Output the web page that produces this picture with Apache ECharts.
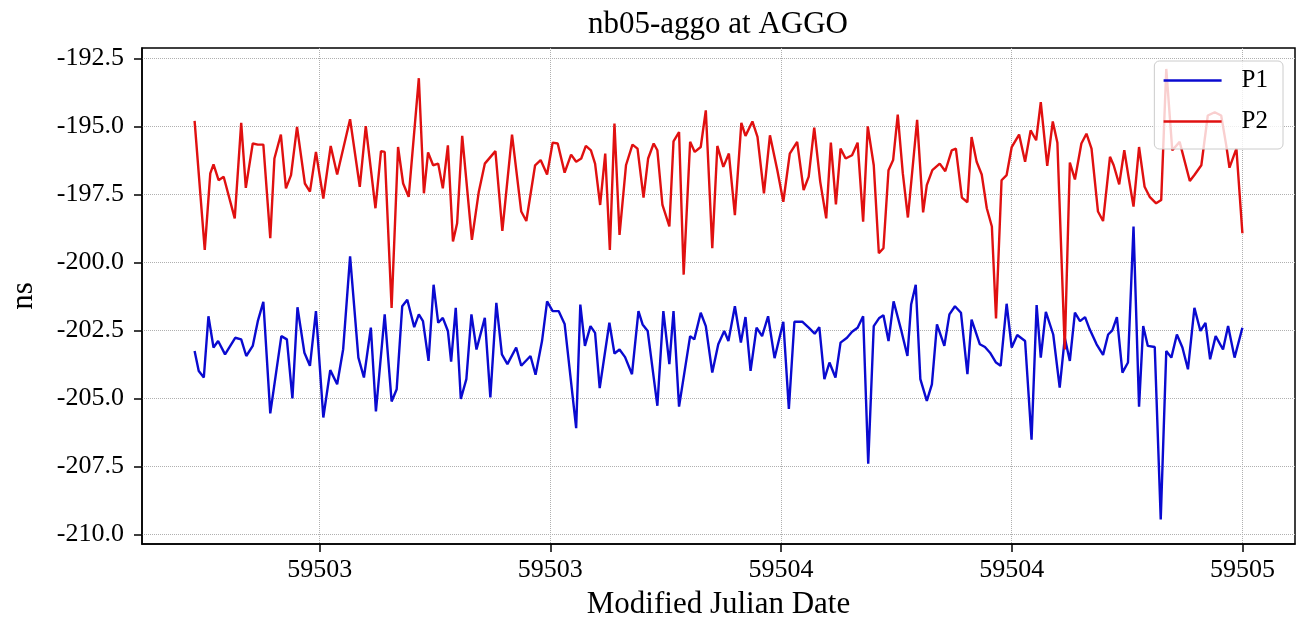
<!DOCTYPE html>
<html>
<head>
<meta charset="utf-8">
<title>nb05-aggo at AGGO</title>
<script src="https://cdn.jsdelivr.net/npm/echarts@6/dist/echarts.min.js"></script>
<style>
    html, body { margin: 0; padding: 0; background: #fff; }
    #main { width: 1308px; height: 625px; }
</style>
</head>
<body>
<div id="main"></div>
<script>
// P1 (blue) - MJD / ns
var p1Mjd = [
    59502.479, 59502.488, 59502.499, 59502.509, 59502.520, 59502.530, 59502.545, 59502.567, 59502.580, 59502.591,
    59502.605, 59502.616, 59502.628, 59502.643, 59502.667, 59502.679, 59502.691, 59502.702, 59502.717, 59502.729,
    59502.742, 59502.758, 59502.773, 59502.788, 59502.801, 59502.816, 59502.834, 59502.846, 59502.861, 59502.872,
    59502.891, 59502.906, 59502.917, 59502.929, 59502.940, 59502.955, 59502.965, 59502.974, 59502.986, 59502.997,
    59503.007, 59503.017, 59503.028, 59503.035, 59503.045, 59503.056, 59503.068, 59503.079, 59503.090, 59503.108,
    59503.120, 59503.133, 59503.145, 59503.157, 59503.176, 59503.187, 59503.207, 59503.218, 59503.232, 59503.243,
    59503.255, 59503.268, 59503.281, 59503.306, 59503.315, 59503.325, 59503.337, 59503.347, 59503.357, 59503.378,
    59503.389, 59503.400, 59503.412, 59503.427, 59503.441, 59503.450, 59503.461, 59503.482, 59503.495, 59503.508,
    59503.517, 59503.529, 59503.553, 59503.562, 59503.576, 59503.587, 59503.601, 59503.614, 59503.627, 59503.636,
    59503.650, 59503.663, 59503.673, 59503.684, 59503.697, 59503.709, 59503.722, 59503.736, 59503.755, 59503.767,
    59503.779, 59503.796, 59503.810, 59503.823, 59503.833, 59503.844, 59503.855, 59503.868, 59503.879, 59503.893,
    59503.904, 59503.916, 59503.928, 59503.939, 59503.951, 59503.963, 59503.972, 59503.983, 59503.994, 59504.010,
    59504.024, 59504.032, 59504.042, 59504.052, 59504.066, 59504.077, 59504.088, 59504.104, 59504.115, 59504.127,
    59504.140, 59504.154, 59504.163, 59504.181, 59504.192, 59504.203, 59504.216, 59504.226, 59504.239, 59504.250,
    59504.262, 59504.279, 59504.293, 59504.304, 59504.313, 59504.324, 59504.340, 59504.354, 59504.365, 59504.376,
    59504.387, 59504.398, 59504.409, 59504.419, 59504.434, 59504.448, 59504.459, 59504.468, 59504.478, 59504.490,
    59504.502, 59504.514, 59504.526, 59504.535, 59504.545, 59504.560, 59504.573, 59504.585, 59504.596, 59504.608,
    59504.620, 59504.632, 59504.646, 59504.659, 59504.670, 59504.680, 59504.692, 59504.708, 59504.719, 59504.733,
    59504.750
];
var p1Ns = [
    -203.26, -203.99, -204.23, -201.98, -203.13, -202.89, -203.38, -202.77, -202.83, -203.44,
    -203.07, -202.16, -201.45, -205.55, -202.71, -202.83, -205.00, -201.65, -203.32, -203.80,
    -201.79, -205.70, -203.96, -204.48, -203.19, -199.78, -203.50, -204.23, -202.40, -205.48,
    -201.91, -205.11, -204.66, -201.61, -201.37, -202.38, -201.91, -202.16, -203.62, -200.82,
    -202.22, -202.04, -202.52, -203.65, -201.67, -205.02, -204.29, -201.91, -203.20, -202.04,
    -204.96, -201.49, -203.38, -203.74, -203.13, -203.80, -203.44, -204.13, -202.89, -201.43,
    -201.79, -201.79, -202.26, -206.09, -201.55, -203.07, -202.34, -202.59, -204.62, -202.22,
    -203.35, -203.20, -203.48, -204.11, -201.79, -202.28, -202.52, -205.27, -201.79, -203.74,
    -201.79, -205.30, -202.71, -202.83, -201.85, -202.34, -204.05, -203.01, -202.52, -202.89,
    -201.61, -202.95, -202.01, -203.99, -202.40, -202.71, -201.98, -203.52, -202.18, -205.39,
    -202.18, -202.18, -202.40, -202.62, -202.38, -204.29, -203.68, -204.23, -202.95, -202.77,
    -202.55, -202.40, -201.98, -207.40, -202.34, -202.04, -201.94, -202.89, -201.43, -202.46,
    -203.44, -201.55, -200.82, -204.29, -205.09, -204.48, -202.28, -203.07, -201.91, -201.61,
    -201.85, -204.11, -202.10, -203.01, -203.11, -203.32, -203.68, -203.80, -201.52, -203.13,
    -202.67, -202.89, -206.52, -201.57, -203.50, -201.82, -202.65, -204.60, -202.77, -203.62,
    -201.85, -202.16, -202.01, -202.46, -203.01, -203.40, -202.65, -202.50, -202.01, -204.05,
    -203.68, -198.68, -205.30, -202.34, -203.07, -203.11, -209.45, -203.26, -203.50, -202.65,
    -203.13, -203.93, -201.67, -202.52, -202.22, -203.56, -202.71, -203.20, -202.34, -203.50,
    -202.40
];

// P2 (red)
var p2Mjd = [
    59502.479, 59502.501, 59502.513, 59502.520, 59502.531, 59502.542, 59502.566, 59502.580, 59502.590, 59502.605,
    59502.616, 59502.628, 59502.643, 59502.652, 59502.666, 59502.677, 59502.688, 59502.701, 59502.718, 59502.729,
    59502.742, 59502.758, 59502.774, 59502.788, 59502.816, 59502.837, 59502.850, 59502.871, 59502.883, 59502.891,
    59502.906, 59502.920, 59502.931, 59502.943, 59502.965, 59502.976, 59502.985, 59502.996, 59503.007, 59503.017,
    59503.028, 59503.039, 59503.048, 59503.059, 59503.080, 59503.095, 59503.108, 59503.131, 59503.146, 59503.167,
    59503.187, 59503.198, 59503.217, 59503.229, 59503.243, 59503.255, 59503.266, 59503.281, 59503.295, 59503.306,
    59503.317, 59503.327, 59503.338, 59503.347, 59503.358, 59503.369, 59503.379, 59503.389, 59503.400, 59503.414,
    59503.428, 59503.439, 59503.452, 59503.462, 59503.474, 59503.482, 59503.493, 59503.508, 59503.517, 59503.529,
    59503.539, 59503.553, 59503.563, 59503.576, 59503.587, 59503.601, 59503.612, 59503.625, 59503.637, 59503.650,
    59503.664, 59503.673, 59503.688, 59503.699, 59503.713, 59503.726, 59503.742, 59503.755, 59503.769, 59503.785,
    59503.799, 59503.810, 59503.822, 59503.835, 59503.848, 59503.858, 59503.869, 59503.879, 59503.890, 59503.904,
    59503.916, 59503.928, 59503.938, 59503.951, 59503.962, 59503.972, 59503.983, 59503.993, 59504.003, 59504.014,
    59504.025, 59504.045, 59504.058, 59504.066, 59504.078, 59504.094, 59504.106, 59504.120, 59504.129, 59504.142,
    59504.154, 59504.163, 59504.174, 59504.185, 59504.196, 59504.207, 59504.216, 59504.228, 59504.239, 59504.250,
    59504.266, 59504.279, 59504.291, 59504.303, 59504.313, 59504.327, 59504.339, 59504.349, 59504.365, 59504.376,
    59504.387, 59504.401, 59504.412, 59504.423, 59504.437, 59504.448, 59504.463, 59504.471, 59504.483, 59504.494,
    59504.502, 59504.514, 59504.526, 59504.538, 59504.549, 59504.563, 59504.574, 59504.585, 59504.598, 59504.614,
    59504.636, 59504.646, 59504.661, 59504.675, 59504.690, 59504.704, 59504.715, 59504.722, 59504.737, 59504.750
];
var p2Ns = [
    -194.80, -199.54, -196.73, -196.40, -196.98, -196.85, -198.38, -194.87, -197.26, -195.63,
    -195.67, -195.67, -199.11, -196.18, -195.30, -197.28, -196.79, -195.02, -197.10, -197.40,
    -195.94, -197.65, -195.72, -196.77, -194.74, -197.22, -194.99, -198.01, -195.91, -195.94,
    -201.67, -195.76, -197.10, -197.59, -193.23, -197.46, -195.96, -196.43, -196.37, -197.28,
    -195.70, -199.23, -198.56, -195.35, -199.17, -197.40, -196.37, -195.91, -198.84, -195.30,
    -198.13, -198.48, -196.43, -196.24, -196.77, -195.60, -195.63, -196.70, -196.04, -196.30,
    -196.18, -195.72, -195.88, -196.37, -197.89, -196.00, -199.54, -194.90, -198.99, -196.43,
    -195.67, -195.82, -197.62, -196.18, -195.63, -195.88, -197.89, -198.68, -195.55, -195.21,
    -200.45, -195.57, -195.94, -195.76, -194.41, -199.48, -195.72, -196.49, -196.00, -198.26,
    -194.87, -195.35, -194.82, -195.39, -197.46, -195.33, -196.61, -197.77, -196.00, -195.57,
    -197.34, -196.85, -195.05, -197.04, -198.38, -195.60, -197.87, -195.82, -196.18, -196.06,
    -195.60, -198.50, -195.00, -196.43, -199.66, -199.48, -196.61, -196.24, -194.57, -196.73,
    -198.35, -194.76, -198.16, -197.16, -196.61, -196.37, -196.65, -195.88, -195.82, -197.62,
    -197.79, -195.39, -196.30, -196.77, -198.01, -198.68, -202.06, -196.98, -196.79, -195.76,
    -195.30, -196.30, -195.15, -195.51, -194.11, -196.45, -194.82, -195.60, -203.20, -196.33,
    -196.95, -195.63, -195.27, -195.82, -198.13, -198.48, -196.12, -196.43, -197.13, -195.88,
    -196.73, -197.95, -195.76, -197.22, -197.59, -197.83, -197.71, -192.89, -195.88, -195.57,
    -197.01, -196.79, -196.43, -194.60, -194.48, -194.60, -195.70, -196.52, -195.82, -198.93
];

// ticks
var xTicks = [59502.75, 59503.25, 59503.75, 59504.25, 59504.75];
var xTickLabels = ['59503', '59503', '59504', '59504', '59505'];
var yTicks = [-210, -207.5, -205, -202.5, -200, -197.5, -195, -192.5];
var yTickLabels = ['-210.0', '-207.5', '-205.0', '-202.5', '-200.0', '-197.5', '-195.0', '-192.5'];

var serif = '"Liberation Serif", "Times New Roman", serif';

function pairs(xs, ys) {
    var out = [];
    for (var i = 0; i < xs.length; i++) {
        out.push([xs[i], ys[i]]);
    }
    return out;
}

function tickLabel(ticks, labels) {
    return function (v) {
        for (var i = 0; i < ticks.length; i++) {
            if (Math.abs(ticks[i] - v) < 1e-6) return labels[i];
        }
        return '';
    };
}

var chart = echarts.init(document.getElementById('main'), null, {renderer: 'canvas'});

var option = {
    animation: false,
    backgroundColor: '#fff',
    title: {
        text: 'nb05-aggo at AGGO',
        left: 718,
        top: 9,
        padding: 0,
        textAlign: 'center',
        textStyle: {fontFamily: serif, fontSize: 31, fontWeight: 'normal', color: '#000'}
    },
    legend: {
        data: ['P1', 'P2'],
        orient: 'vertical',
        right: 25,
        top: 61,
        itemWidth: 58,
        itemHeight: 25,
        itemGap: 16,
        padding: [7, 15, 15, 8],
        backgroundColor: 'rgba(255,255,255,0.8)',
        borderColor: '#cccccc',
        borderWidth: 1,
        borderRadius: 5,
        // hide the marker so only the line sample is drawn
        itemStyle: {opacity: 0},
        lineStyle: {width: 2.5},
        textStyle: {fontFamily: serif, fontSize: 25, color: '#000', padding: [0, 0, 0, 15]}
    },
    grid: {
        left: 141,
        right: 13,
        top: 48,
        bottom: 78,
        show: true,
        borderColor: '#000',
        borderWidth: 1.5,
        backgroundColor: 'transparent'
    },
    xAxis: {
        type: 'value',
        min: 59502.365,
        max: 59504.864,
        name: 'Modified Julian Date',
        nameLocation: 'middle',
        nameGap: 45,
        nameTextStyle: {fontFamily: serif, fontSize: 31, color: '#000'},
        axisLine: {show: true, onZero: false, lineStyle: {color: '#000', width: 1.5}},
        axisTick: {show: true, inside: false, length: 8, customValues: xTicks, lineStyle: {color: '#000', width: 1.5}},
        axisLabel: {
            customValues: xTicks,
            formatter: tickLabel(xTicks, xTickLabels),
            margin: 13,
            fontFamily: serif,
            fontSize: 26,
            color: '#000'
        },
        splitLine: {show: true, lineStyle: {color: '#b0b0b0', type: 'dotted', width: 1}}
    },
    yAxis: {
        type: 'value',
        min: -210.35,
        max: -192.12,
        name: 'ns',
        nameLocation: 'middle',
        nameGap: 103,
        nameTextStyle: {fontFamily: serif, fontSize: 31, color: '#000'},
        axisLine: {show: true, onZero: false, lineStyle: {color: '#000', width: 1.5}},
        axisTick: {show: true, inside: false, length: 8, customValues: yTicks, lineStyle: {color: '#000', width: 1.5}},
        axisLabel: {
            customValues: yTicks,
            formatter: tickLabel(yTicks, yTickLabels),
            margin: 18,
            fontFamily: serif,
            fontSize: 26,
            color: '#000'
        },
        splitLine: {show: true, lineStyle: {color: '#b0b0b0', type: 'dotted', width: 1}}
    },
    series: [
        {
            name: 'P1',
            type: 'line',
            data: pairs(p1Mjd, p1Ns),
            symbol: 'none',
            lineStyle: {color: '#0a0ad0', width: 2.4},
            itemStyle: {color: '#0a0ad0'}
        },
        {
            name: 'P2',
            type: 'line',
            data: pairs(p2Mjd, p2Ns),
            symbol: 'none',
            lineStyle: {color: '#e01010', width: 2.4},
            itemStyle: {color: '#e01010'}
        }
    ]
};

chart.setOption(option);
</script>
</body>
</html>
